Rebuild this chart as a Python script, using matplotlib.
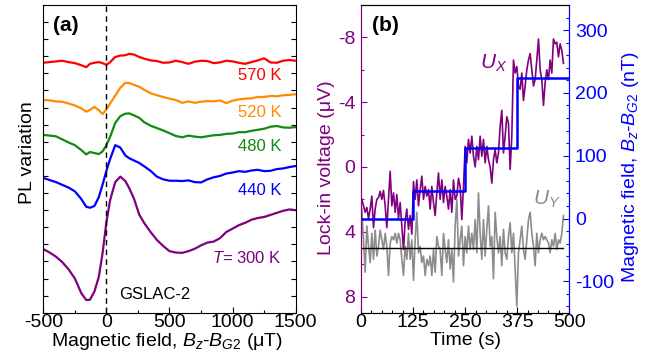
import numpy as np
import matplotlib
matplotlib.use("Agg")
import matplotlib.pyplot as plt
from matplotlib.ticker import MultipleLocator, FixedLocator, NullFormatter

plt.rcParams['font.family'] = ['Liberation Sans', 'DejaVu Sans']
plt.rcParams['font.size'] = 14
plt.rcParams['axes.unicode_minus'] = False
plt.rcParams['mathtext.fontset'] = 'custom'
plt.rcParams['mathtext.rm'] = 'Liberation Sans'
plt.rcParams['mathtext.it'] = 'Liberation Sans:italic'
plt.rcParams['mathtext.bf'] = 'Liberation Sans:bold'

# ---------------- Panel (a) data: PL variation vs field (uT) ----------------
field_uT = [-500, -450, -400, -350, -300, -250, -200, -160, -130, -95, -60, -30, 0, 30, 70,
            110, 150, 180, 220, 260, 300, 350, 400, 450, 500, 550, 600, 650, 700, 750,
            800, 850, 900, 950, 1000, 1050, 1100, 1150, 1200, 1250, 1300, 1350, 1400, 1450, 1500]

pl_570K = [7.31, 7.33, 7.35, 7.37, 7.33, 7.30, 7.24, 7.18, 7.28, 7.31, 7.33, 7.30, 7.25, 7.33, 7.48,
           7.52, 7.53, 7.57, 7.55, 7.48, 7.43, 7.38, 7.36, 7.31, 7.32, 7.37, 7.33, 7.28, 7.34, 7.37,
           7.36, 7.30, 7.32, 7.37, 7.35, 7.31, 7.28, 7.33, 7.38, 7.44, 7.32, 7.31, 7.37, 7.39, 7.37]
pl_520K = [6.22, 6.21, 6.18, 6.17, 6.12, 6.06, 5.98, 5.88, 5.93, 6.02, 5.92, 5.81, 5.95, 6.12, 6.35,
           6.58, 6.72, 6.72, 6.66, 6.61, 6.52, 6.42, 6.36, 6.31, 6.26, 6.22, 6.14, 6.18, 6.14, 6.17,
           6.19, 6.18, 6.21, 6.13, 6.20, 6.24, 6.26, 6.27, 6.31, 6.31, 6.34, 6.33, 6.36, 6.37, 6.39]
pl_480K = [5.20, 5.18, 5.16, 5.07, 4.98, 4.90, 4.76, 4.63, 4.70, 4.67, 4.64, 4.72, 4.90, 5.15, 5.55,
           5.75, 5.82, 5.83, 5.77, 5.70, 5.57, 5.47, 5.40, 5.33, 5.25, 5.17, 5.13, 5.18, 5.15, 5.13,
           5.16, 5.19, 5.20, 5.23, 5.24, 5.28, 5.28, 5.32, 5.35, 5.38, 5.44, 5.46, 5.42, 5.41, 5.43]
pl_440K = [3.94, 3.88, 3.82, 3.74, 3.66, 3.55, 3.33, 3.10, 3.07, 3.12, 3.38, 3.75, 4.15, 4.50, 4.90,
           4.83, 4.60, 4.52, 4.45, 4.38, 4.28, 4.15, 3.98, 3.90, 3.86, 3.86, 3.85, 3.87, 3.82, 3.81,
           3.90, 3.96, 4.00, 4.07, 4.10, 4.14, 4.12, 4.16, 4.18, 4.14, 4.15, 4.20, 4.22, 4.26, 4.29]
pl_300K = [1.86, 1.76, 1.64, 1.48, 1.27, 1.00, 0.58, 0.37, 0.38, 0.62, 1.05, 1.75, 2.65, 3.30, 3.82,
           3.98, 3.85, 3.65, 3.32, 2.87, 2.62, 2.36, 2.13, 1.95, 1.80, 1.76, 1.75, 1.80, 1.87, 1.97,
           2.05, 2.08, 2.18, 2.36, 2.46, 2.56, 2.63, 2.72, 2.77, 2.80, 2.86, 2.92, 2.98, 3.02, 3.00]

curve_labels = ['570 K', '520 K', '480 K', '440 K', r'$T$= 300 K']
curve_colors = ['#ff0000', '#ff8c00', '#108a10', '#0000ff', '#800080']
label_y = [6.93, 5.87, 4.85, 3.57, 1.61]

# ---------------- Panel (b) data ----------------
time_s = np.arange(2, 487, 4)
u_x = [2.0, 2.4, 2.8, 2.5, 3.2, 2.6, 1.8, 3.75, 2.6, 2.0,
       1.9, 1.5, 2.0, 1.45, 2.4, 3.75, 2.0, 0.27, 2.4, 1.6,
       2.8, 1.7, 3.2, 2.2, 3.65, 5.1, 3.35, 2.6, 3.85, 3.0,
       4.15, 0.9, 2.0, 0.8, 2.4, 1.4, 0.57, 2.0, 1.2, 1.8,
       1.4, 2.6, 1.2, 2.2, 3.0, 1.6, 0.37, 2.0, 0.8, 2.2,
       1.2, 1.8, 2.6, 1.4, 2.8, 0.8, 2.0, 1.8, 0.7, 1.2,
       3.25, 1.2, -1.27, -0.25, -1.7, -0.86, -1.9, -0.66, 0.0, -1.27,
       -0.45, -1.9, -0.66, -1.7, -0.25, -1.27, -0.45, 0.0, 1.0, -0.45,
       -1.07, -0.25, -0.86, -2.5, -3.5, -0.86, -1.9, -3.1, -2.7, 0.16,
       -1.9, -6.6, -5.8, -6.2, -5.0, -4.8, -5.8, -4.1, -5.0, -6.0,
       -6.6, -7.0, -6.0, -5.0, -5.4, -6.6, -7.9, -6.0, -5.4, -3.8,
       -5.2, -6.0, -5.4, -6.6, -5.8, -7.9, -7.6, -7.7, -6.8, -7.6,
       -7.2, -6.4]
u_y = [2.6, 4.5, 6.5, 3.65, 4.9, 5.9, 4.1, 5.7, 3.9, 5.5,
       4.9, 3.9, 4.5, 5.1, 4.1, 4.9, 6.7, 4.7, 4.3, 4.5,
       4.1, 4.7, 4.1, 4.5, 5.7, 6.7, 4.9, 5.7, 4.1, 5.7,
       4.5, 7.0, 4.5, 2.8, 5.3, 4.9, 5.9, 5.5, 6.7, 5.7,
       6.1, 5.5, 6.7, 5.1, 6.5, 4.3, 4.9, 5.1, 6.7, 4.1,
       5.1, 5.9, 4.5, 6.3, 5.1, 7.1, 3.65, 2.0, 5.5, 4.5,
       3.65, 6.1, 4.3, 5.3, 3.65, 5.1, 4.1, 5.1, 3.25, 5.3,
       1.6, 4.1, 5.7, 3.25, 5.5, 3.85, 2.4, 4.9, 4.3, 6.9,
       2.8, 4.3, 5.3, 4.3, 6.1, 3.85, 5.3, 5.7, 4.3, 3.45,
       5.3, 4.1, 6.3, 8.6, 5.3, 4.5, 3.65, 5.1, 5.7, 4.5,
       3.25, 2.8, 4.1, 4.9, 6.1, 4.1, 5.3, 4.5, 4.1, 4.5,
       4.3, 4.5, 4.7, 5.3, 4.5, 4.9, 4.1, 5.1, 4.5, 4.7,
       4.1, 3.0]
ref_t = [0, 485]
ref_u = [5, 5]
step_t = [0, 125, 250, 375, 500]
step_B_nT = [0, 44, 112, 223, 223]

purple = '#800080'
blue = '#0000ff'
gray = '#8c8c8c'

W, H = 668, 364
fig = plt.figure(figsize=(W / 100, H / 100), dpi=100)

def rect(l, r, t, b):
    return [l / W, (H - b) / H, (r - l) / W, (b - t) / H]

ax1 = fig.add_axes(rect(43.3, 295.7, 5, 312.7))
ax2 = fig.add_axes(rect(361, 569.3, 5, 312.7))
ax3 = ax2.twinx()

# ---------------- Panel (a) ----------------
curves = [pl_570K, pl_520K, pl_480K, pl_440K, pl_300K]
for yv, c, lab, ly in zip(curves, curve_colors, curve_labels, label_y):
    ax1.plot(field_uT, yv, color=c, lw=1.6, solid_joinstyle='round')
    ax1.text(1390, ly, lab, color=c, fontsize=12, ha='right', va='center')
ax1.axvline(0, color='k', lw=1.0, ls=(0, (4, 3)))
ax1.text(101, 0.53, 'GSLAC-2', fontsize=12, ha='left', va='center')
ax1.text(0.04, 0.935, '(a)', transform=ax1.transAxes, fontsize=15,
         fontweight='bold', ha='left', va='center')
ax1.set_xlim(-500, 1500)
ax1.set_ylim(0, 9)
ax1.xaxis.set_major_locator(FixedLocator([-500, 0, 500, 1000, 1500]))
ax1.xaxis.set_minor_locator(MultipleLocator(250))
ax1.yaxis.set_major_locator(MultipleLocator(0.5))
ax1.yaxis.set_major_formatter(NullFormatter())
ax1.tick_params(axis='both', which='both', direction='in')
ax1.tick_params(axis='y', which='major', left=True, right=True, length=3.5, width=0.8)
ax1.tick_params(axis='x', which='major', length=4, width=0.8, pad=1)
ax1.tick_params(axis='x', which='minor', length=2.5, width=0.8)
ax1.set_xlabel(r'Magnetic field, $B_z$-$B_{G2}$ (μT)')
ax1.xaxis.set_label_coords(0.49, -0.058)
ax1.set_ylabel('PL variation')
ax1.yaxis.set_label_coords(-0.03, 0.52)

# ---------------- Panel (b) ----------------
ax2.plot(time_s, u_y, color=gray, lw=1.2)
ax2.plot(time_s, u_x, color=purple, lw=1.2)
ax2.plot(ref_t, ref_u, color='k', lw=1.0)
ax2.set_xlim(0, 500)
ax2.set_ylim(9, -10)
ax2.xaxis.set_major_locator(FixedLocator([0, 125, 250, 375, 500]))
ax2.xaxis.set_minor_locator(MultipleLocator(25))
ax2.yaxis.set_major_locator(FixedLocator([-8, -4, 0, 4, 8]))
ax2.yaxis.set_minor_locator(FixedLocator([-6, -2, 2, 6]))
ax2.tick_params(axis='both', which='both', direction='in')
ax2.tick_params(axis='x', which='major', length=4, width=0.8, pad=1)
ax2.tick_params(axis='x', which='minor', length=2.5, width=0.8)
ax2.tick_params(axis='y', which='major', length=4, width=0.8, colors=purple, pad=4)
ax2.tick_params(axis='y', which='minor', length=2.5, width=0.8, colors=purple)
ax2.spines['left'].set_color(purple)
ax2.spines['right'].set_color(blue)
ax2.set_xlabel('Time (s)')
ax2.xaxis.set_label_coords(0.5, -0.063)
ax2.set_ylabel('Lock-in voltage (μV)', color=purple)
ax2.yaxis.set_label_coords(-0.125, 0.47)
ax2.text(286, -6.05, r'$U_X$', color=purple, fontsize=15, ha='left', va='baseline')
ax2.text(413, 2.32, r'$U_Y$', color=gray, fontsize=15, ha='left', va='baseline')
ax2.text(0.053, 0.935, '(b)', transform=ax2.transAxes, fontsize=15,
         fontweight='bold', ha='left', va='center')

ax3.plot(step_t, step_B_nT, color=blue, lw=1.8, drawstyle='steps-post')
ax3.set_ylim(-150, 340)
ax3.yaxis.set_major_locator(FixedLocator([-100, 0, 100, 200, 300]))
ax3.yaxis.set_minor_locator(MultipleLocator(20))
ax3.tick_params(axis='y', which='both', direction='in', colors=blue)
ax3.tick_params(axis='y', which='major', length=4, width=0.8, pad=4)
ax3.tick_params(axis='y', which='minor', length=2.5, width=0.8)
ax3.spines['right'].set_color(blue)
ax3.spines['left'].set_color(purple)
ax3.set_ylabel(r'Magnetic field, $B_z$-$B_{G2}$ (nT)', color=blue)
ax3.yaxis.set_label_coords(1.245, 0.474)

fig.savefig('out.png', dpi=100)
